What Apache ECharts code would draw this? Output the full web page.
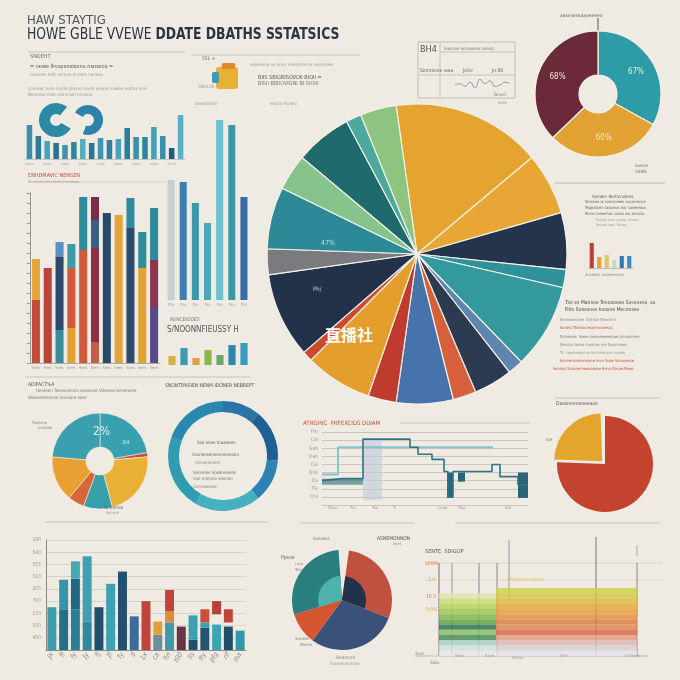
<!DOCTYPE html>
<html>
<head>
<meta charset="utf-8" />
<script src="https://cdn.jsdelivr.net/npm/echarts@6.0.0/dist/echarts.min.js"></script>
<style>
  html, body { margin: 0; padding: 0; background: #efebe3; }
  #main { width: 680px; height: 680px; }
</style>
</head>
<body>
<div id="main"></div>
<script>
// ---- data ----
var miniCats = ['a1','a2','a3','a4','a5','a6','a7','a8','a9','a10','a11','a12','a13','a14','a15','a16','a17','a18'];
var miniValues = [34, 23, 18, 16, 14, 17, 20, 16, 21, 19, 20, 31, 22, 22, 32, 23, 11, 44];

var stackCats = ['s1','s2','s3','s4','s5','s6','s7','s8','s9','s10','s11'];
var stackSeg1 = [63, 95, 33, 35, 113, 21, 150, 148, 135, 95, 56];
var stackSeg2 = [41, 0, 73, 60, 53, 94, 0, 0, 30, 36, 47];
var stackSeg3 = [0, 0, 15, 24, 0, 28, 0, 0, 0, 0, 52];
var stackSeg4 = [0, 0, 0, 0, 0, 23, 0, 0, 0, 0, 0];

var tallCats = ['t1','t2','t3','t4','t5','t6','t7'];
var tallValues = [120, 118, 97, 77, 180, 175, 103];

var iconCats = ['i1','i2','i3','i4','i5','i6','i7'];
var iconValues = [9, 17, 7, 15, 10, 20, 22];

var mainPieValues = [58, 24, 22, 7, 33, 6, 15, 9, 22, 11, 26, 4, 33, 10, 24, 14, 22, 6, 14];

var ringValues = [119, 107, 134];
var ringLabels = ['67%', '60%', '68%'];

var leftPieValues = [80, 5, 80, 35, 20, 55, 85];
var hoopValues = [40, 55, 45, 70, 80, 70];

var stepLineA = [[0,24],[20,26],[41,26],[41,65],[88,65],[88,57],[96,57],[96,50],[110,50],[110,45],[122,45],[122,33],[126,33],[126,8],[131,8],[131,33],[170,33],[170,40],[178,40],[178,28],[196,28],[196,20],[206,20]];
var stepLineB = [[0,30],[16,30],[16,57],[171,57]];
var stepTicks = ['', 'Onl', 'Tle', 'Oa', 'Ohe', 'Cal', 'Dah', 'Gah', 'Cal', 'Pm'];

var sidePieValues = [272, 86, 2];

var bottomCats = ['Jx','ff','fy','Jy','fj','Jf','fy','d','1x','ca','fin','t00','lls','fty','pfg','rif','ma'];
var bottomSeg1 = [42, 40, 40, 28, 42, 65, 77, 33, 48, 15, 27, 23, 10, 22, 25, 23, 19];
var bottomSeg2 = [0, 29, 30, 64, 0, 0, 0, 0, 0, 13, 11, 0, 24, 5, 10, 4, 0];
var bottomSeg3 = [0, 0, 17, 0, 0, 0, 0, 0, 0, 0, 21, 0, 0, 13, 13, 13, 0];
var bottomTicks = ['', '400', '150', '170', '700', '205', '510', '555', '540', '180'];

var bottomPieValues = [8, 103, 105, 37, 103, 4];
var bottomPieInner = [8, 103, 142, 103, 4];

var panelBarValues = [25, 11, 13, 8, 12, 12];
var infoLine = [5, 6, 4, 7, 3, 9, 6, 8, 4, 5, 7, 6];

var heatRows = ['r1','r2','r3','r4','r5','r6','r7','r8','r9','r10','r11','r12','r13'];
var heatLeft = [57, 57, 57, 57, 57, 57, 57, 57, 57, 57, 57, 57, 57];
var heatRight = [141, 141, 141, 141, 141, 141, 141, 141, 141, 141, 141, 141, 141];

// ---- colours ----
var miniColors = ['#3b8fae','#2d7b98','#4aa3b8','#2a6f8e','#3c93ad','#2b86a2','#55adc0','#2a7592','#3f98b0','#2e82a0','#4aa2b7','#2c7d9b','#3990ab','#2b84a0','#40a0b8','#3a8fae','#1f5f7a','#5aafc6'];
var stackCol1 = ['#c54b3b','#b9423a','#3a8a9a','#e2a030','#d05b3c','#c75a46','#284a6a','#e3a43b','#2d4a70','#e3a232','#5b4a8a'];
var stackCol2 = ['#e5a43a','#b9423a','#2d4a6e','#d4583a','#2e8a9c','#8b2f48','#284a6a','#e3a43b','#2f8aa0','#2f8d9a','#8a3550'];
var stackCol3 = ['#000','#000','#5a8fbf','#3d9aa8','#000','#3b5e86','#000','#000','#000','#000','#2d8a9a'];
var stackCol4 = ['#000','#000','#000','#000','#000','#7a2d48','#000','#000','#000','#000','#000'];
var tallColors = ['rgba(150,170,185,0.45)','#3d7fb0','#3a9aaa','#4aa8b8','#6cc0cf','#3a98a8','#3a6aa8'];
var iconColors = ['#d8b240','#3a9ab0','#e2a040','#8ab848','#6aa86a','#2e8aa8','#3a9ac0'];
var mainPieColors = ['#e5a42f','#e8a734','#24344c','#2f929b','#33999d','#5c86b0','#2d3b50','#d5603b','#4673ab','#be3b2d','#e39e2c','#cc4b2e','#22324a','#7a7b7e','#2b8a95','#87c38c','#1f6b6b','#4aa89c','#8dc47f'];
var ringColors = ['#2e9ca6','#e2a233','#6b2a3a'];
var leftPieColors = ['#38a0ae','#c0503a','#e8b035','#36a0ab','#d8663a','#e8a030','#3b9fb0'];
var hoopColors = ['#2a74a8','#1f5f95','#2f80b5','#46b0c0','#2f9cb0','#2a88b0'];
var sidePieColors = ['#c4432f','#e3a52e','rgba(0,0,0,0)'];
var bottomCol1 = ['#3e9cab','#256f8a','#2a7f96','#2e88a0','#234f6e','#3aa2b0','#22506e','#3e6d98','#c0443a','#6c8e98','#3d9aa8','#6a3348','#234f6e','#245570','#3aa6b2','#1f4f6b','#2e9aa8'];
var bottomCol2 = ['#000','#3496aa','#1f6784','#3fa0b2','#000','#000','#000','#000','#000','#e2a03a','#e08a3a','#000','#3aa0b0','#3aa0b0','rgba(0,0,0,0)','rgba(0,0,0,0)','#000'];
var bottomCol3 = ['#000','#000','#45a8b5','#000','#000','#000','#000','#000','#000','#000','#c0443a','#000','#000','#c8503a','#b83f3a','#c0443a','#000'];
var bottomPieColors = ['rgba(0,0,0,0)','#c0513f','#3a527a','#d4552f','#2a7e7f','rgba(0,0,0,0)'];
var bottomInnerColors = ['rgba(0,0,0,0)','#22324a','rgba(0,0,0,0)','#4fb3ad','rgba(0,0,0,0)'];
var panelColors = ['#b8403a','#e2a23a','#d8c870','#c8d8c8','#2e78b8','#3a88c8'];
var heatLeftColors = ['rgba(0,0,0,0)','#e0e6b0','#cfdd78','#b6d35e','#9cc956','#7fb94e','#5ea648','#2f7a52','#8cc070','#4c8f5a','#a8d2c6','#d0e0e4','#e6e8ea'];
var heatRightColors = ['#cbd24c','#d3c845','#dcbb3e','#e4aa3a','#e5a240','#e29245','#de7f48','#e08a55','#d96a4e','#e0a080','#ddb8b0','#d8d0d4','#e6e4e6'];

function colored(values, colors) {
  return values.map(function (v, i) { return { value: v, itemStyle: { color: colors[i] } }; });
}

var FONT = "'Liberation Sans Narrow', 'DejaVu Sans Condensed', sans-serif";
function t(x, y, text, size, color, weight, extra) {
  var el = { type: 'text', z: 100, style: { x: x, y: y, text: text, fill: color || '#777', font: (weight || 'normal') + ' ' + size + 'px ' + FONT, verticalAlign: 'top' } };
  if (extra) Object.assign(el.style, extra);
  return el;
}
function ln(x1, y1, x2, y2, color, w) {
  return { type: 'line', z: 1, shape: { x1: x1, y1: y1, x2: x2, y2: y2 }, style: { stroke: color || '#c9c4ba', lineWidth: w || 1 } };
}

var hiddenX = function (g, cats) { return { type: 'category', gridIndex: g, data: cats, show: false }; };
var hiddenY = function (g, max) { return { type: 'value', gridIndex: g, max: max, show: false }; };

var pieBorder = { borderColor: '#f4f0e8', borderWidth: 1.2 };

var graphics = [
  // title
  t(27, 14, 'HAW STAYTIG', 13, '#50545c'),
  { type: 'text', z: 100, x: 27, y: 27, scaleX: 0.86, style: { x: 0, y: 0, verticalAlign: 'top', text: '{a|HOWE GBLE VVEWE }{b|DDATE DBATHS SSTATSICS}',
      rich: { a: { font: '16px ' + FONT, fill: '#2c3446' }, b: { font: 'bold 16px ' + FONT, fill: '#2c3446' } } } },
  ln(28, 52, 185, 52), ln(192, 55, 360, 55),
  t(30, 54, 'SNOEHT', 5.5, '#666'),
  t(30, 64, '= newe llrcsyonsiovne nsnseco =', 5.5, '#555'),
  t(30, 72, 'neemee teet nornee ricoses nenoes', 4.5, '#999'),
  t(28, 86, 'Lcensec nere noote dnene ciocle yenoe nuelee ssotne sne', 4.5, '#999'),
  t(28, 92, 'Noeesne eiee reens anr nnceoe', 4.5, '#999'),
  t(202, 56, 'SSL =', 5, '#777'),
  t(250, 62, 'seeesene oe nnec enereonnne neennees', 4.5, '#999'),
  t(258, 75, 'BIIS SBIGRISOVOII BIOII =', 5.5, '#555'),
  t(258, 81, 'BISII BIBIOVIGNI BI SIOIII', 5.5, '#777'),
  t(198, 84, 'SNOLOE', 4.5, '#999'),
  t(270, 101, 'snoce rsoneo', 4.5, '#999'),
  { type: 'rect', z: 5, shape: { x: 216, y: 67, width: 22, height: 22, r: 3 }, style: { fill: '#e8b035' } },
  { type: 'rect', z: 6, shape: { x: 212, y: 72, width: 7, height: 11, r: 2 }, style: { fill: '#3a9ab0' } },
  { type: 'rect', z: 6, shape: { x: 222, y: 63, width: 13, height: 6, r: 1 }, style: { fill: '#e0892e' } },
  // info box
  { type: 'rect', z: 1, shape: { x: 418, y: 42, width: 97, height: 56 }, style: { fill: 'none', stroke: '#c2bdb3' } },
  ln(440, 42, 440, 98), ln(440, 52, 515, 52), ln(418, 75, 515, 75),
  t(420, 45, 'BH4', 9, '#555'),
  t(444, 46, 'Ioexcee senoeeos ooeoa', 4.5, '#777'),
  t(420, 68, 'Sommove', 5, '#666'), t(444, 68, 'awa', 5, '#666'), t(463, 68, 'Jo0e', 5, '#666'), t(492, 68, 'Jo 68', 5, '#666'),
  t(493, 92, 'Tannel', 4.5, '#888'), t(498, 101, 'Seee', 4, '#999'),
  // top right
  t(560, 13, 'aasesessaaoeeeeo', 5, '#666'),
  ln(598, 18, 598, 32, '#555'),
  t(635, 163, 'Iaosoe', 4.5, '#777'), t(635, 169, 'SNIBE', 4.5, '#777'),
  ln(555, 183, 665, 183, '#bdb8ae'),
  // right panel
  t(592, 194, 'Senaen Rorticnoleos', 4.5, '#555'),
  t(585, 200, 'Sinecon Ix sonrsoieen onconsoion', 4, '#666'),
  t(585, 206, 'Tegodisein Iasioeos nor sosereoso', 4, '#666'),
  t(585, 212, 'Roms teneenoc sraeo wo sinosto', 4, '#666'),
  t(596, 218, 'Soionn tnse: ocooe  Eoeom', 3.5, '#999'),
  t(596, 223, 'Tosnan Ioeo  Sanoe', 3.5, '#999'),
  t(585, 273, 'Sooeoec Iosoeeeonns', 4, '#888'),
  t(565, 300, 'Tioi sn Mannoe Tenonoeoe Soceneso, so', 5, '#444'),
  t(565, 307, 'Fitts Sonesnes Inosore Mecensee', 5, '#444'),
  t(560, 318, 'Seneoseocee  Srrrocn Eeocenn', 4, '#888'),
  t(560, 326, 'Sonets Tosinoo esomsoioesss', 4, '#c8503a'),
  t(560, 335, 'Eomoeoe  Seee roonoeneeesoes Ammolnne', 4, '#777'),
  t(560, 343, 'Nnosno Iosoe monnes me Sosonnoes', 4, '#888'),
  t(560, 351, 'Te  seenonesone Sosnnonens naeeo', 4, '#999'),
  t(560, 359, 'Sonnersonnennene Imm Sose Soosoeose', 4, '#c8503a'),
  t(553, 367, 'Seonos Sosonerneosoesoe Senn Rosoe Roeo', 4, '#c8503a'),
  ln(555, 398, 660, 398),
  t(556, 401, 'Daosneeneoeeaoe', 5, '#555'),
  // left side
  t(195, 101, 'aesdnitene', 4.5, '#999'),
  t(28, 173, 'ENHDMAVIC NENSEN', 5.5, '#c0503a'),
  t(28, 180, 'Seeeoeeeeeeeeeeoeeeeeoe', 4, '#999'),
  ln(70, 182, 165, 182, '#d8d2c8'),
  t(170, 317, 'IN/NCEIOOES', 5, '#777'),
  t(167, 326, 'S/NOONNFIEUSSY H', 8, '#555', 'normal', { fontStyle: 'italic' }),
  ln(25, 377, 250, 377),
  t(28, 382, 'ADIFACT%A', 5, '#555'),
  t(36, 388, 'Uenleen Teesoenceio nossiove Vinsene Ienemene', 4.5, '#777'),
  t(28, 395, 'Woiseesmenne Ioonane sees', 4.5, '#777'),
  t(165, 383, 'SNONTDNSIEN NENM IDONER NEBREPT', 5, '#555'),
  t(32, 421, 'Tuenene', 4, '#888'), t(38, 426, 'mosnee', 4, '#888'),
  t(104, 505, 'Snonnse', 5, '#666'), t(106, 511, 'Sonose', 4, '#999'),
  ln(45, 522, 268, 522),
  t(197, 440, 'Soo snee tnaeseen', 4.5, '#555'),
  t(192, 452, 'Sosneeseneeneeeeonn', 4.5, '#666'),
  t(195, 460, 'Senoeeneen', 4.5, '#888'),
  t(193, 470, 'Sonnens Sosnneeeon', 4.5, '#666'),
  t(193, 476, 'Soe noneeo seoneo', 4.5, '#777'),
  t(193, 484, 'Sonneeesen', 4.5, '#888'),
  // step chart
  t(303, 420, 'ATHGHIC  PRFEXCIDS DUIAM', 6, '#c0503a'),
  ln(400, 423, 530, 423),
  t(328, 506, 'Tiaon', 4, '#999'), t(350, 506, 'Tnv', 4, '#999'), t(372, 506, 'Tae', 4, '#999'),
  t(393, 506, 'Ti', 4, '#999'), t(438, 506, 'Ceoe', 4, '#999'), t(458, 506, 'Tioe', 4, '#999'), t(505, 506, 'Dio', 4, '#999'),
  ln(300, 523, 414, 523), ln(455, 523, 660, 523),
  t(546, 437, 'Ioe', 4.5, '#777'),
  // pie texts
  t(321, 240, '47%', 7, '#bfe4e8'),
  t(313, 286, 'Ph/', 6, '#cfd6e0'),
  { type: 'text', z: 120, style: { x: 325, y: 327, text: '直播社', fill: '#ffffff', font: 'bold 16px "Noto Sans CJK SC", sans-serif', verticalAlign: 'top' } },
  t(93, 426, '2%', 12, '#d8f2f4'),
  t(122, 440, '3/4', 5, '#d8f2f4'),
  // bottom pie texts
  t(313, 536, 'Sosoeos', 4.5, '#777'),
  t(377, 536, 'ASNEMONNON', 5, '#555'),
  t(393, 542, 'Sees', 4, '#999'),
  t(281, 555, 'Ppsne', 5, '#555'),
  t(295, 562, 'Loso', 4, '#888'), t(295, 568, 'Toso', 4, '#888'),
  t(295, 637, 'Sreseee', 4, '#888'), t(300, 643, 'Moene', 4, '#888'),
  t(336, 655, 'Aeasnoe', 5, '#888'), t(330, 661, 'Soosonnonane', 4.5, '#999'),
  // heat bands
  t(425, 549, 'SENTE  SDIGOP', 5.5, '#555'),
  t(425, 561, '100%', 5, '#d87a4a'),
  t(428, 577, '1.0', 5, '#e0a040'),
  t(426, 594, '10.5', 5, '#d87a4a'),
  t(426, 607, '0.0%', 5, '#e0a040'),
  t(507, 577, 'Pilolonsnnoeeeo', 5, '#e0c060'),
  ln(425, 563, 662, 563, '#d8d3ca'), ln(425, 580, 662, 580, '#ddd8cf'),
  ln(439, 563, 439, 656, '#777'), ln(452, 563, 452, 656, '#999'),
  ln(479, 563, 479, 656, '#888'), ln(497, 563, 497, 656, '#888'),
  ln(509, 540, 509, 600, '#999'), ln(596, 537, 596, 656, '#777'),
  ln(637, 563, 637, 656, '#888'), ln(637, 545, 637, 556, '#aaa'),
  ln(415, 656, 648, 656, '#bbb'),
  t(415, 652, 'Tosie', 4, '#888'), t(430, 660, 'Sola', 4.5, '#777'),
  t(455, 654, 'Sees', 4, '#999'), t(485, 654, 'Eaoe', 4, '#999'), t(512, 656, 'Deove', 4, '#999'),
  t(560, 654, 'Ooe', 4, '#999'), t(625, 654, 'Loneose', 4, '#999')
];

var option = {
  backgroundColor: '#efebe3',
  animation: false,
  textStyle: { fontFamily: FONT },
  grid: [
    { left: 25, top: 110, width: 160, height: 49 },   // 0 mini bars
    { left: 30, top: 193, width: 130, height: 170 },  // 1 stacked bars
    { left: 165, top: 115, width: 85, height: 185 },  // 2 tall bars
    { left: 166, top: 340, width: 84, height: 25 },   // 3 icon bars
    { left: 322, top: 432, width: 206, height: 73 },  // 4 step chart
    { left: 46, top: 540, width: 200, height: 110 },  // 5 bottom bars
    { left: 588, top: 240, width: 45, height: 28 },   // 6 panel bars
    { left: 439, top: 588, width: 198, height: 68 },  // 7 heat bands
    { left: 455, top: 78, width: 55, height: 14 }     // 8 info line
  ],
  xAxis: [
    { type: 'category', gridIndex: 0, data: miniCats, axisLine: { lineStyle: { color: '#c9c4ba' } }, axisTick: { show: false },
      axisLabel: { fontSize: 4, color: '#aaa', margin: 3, formatter: function () { return 'sooe'; } } },
    { type: 'category', gridIndex: 1, data: stackCats, axisLine: { lineStyle: { color: '#aaa' } }, axisTick: { show: false },
      axisLabel: { fontSize: 4, color: '#999', margin: 3, formatter: function () { return 'Sees'; } } },
    { type: 'category', gridIndex: 2, data: tallCats, axisLine: { show: false }, axisTick: { show: false },
      axisLabel: { fontSize: 4, color: '#999', margin: 3, formatter: function () { return 'Pro'; } } },
    hiddenX(3, iconCats),
    { type: 'value', gridIndex: 4, min: 0, max: 206, show: false },
    { type: 'category', gridIndex: 5, data: bottomCats, axisLine: { lineStyle: { color: '#8a8a8a' } }, axisTick: { show: false },
      axisLabel: { fontSize: 7, color: '#8a8a8a', rotate: 60, margin: 3, fontStyle: 'italic' } },
    { type: 'category', gridIndex: 6, data: ['p1','p2','p3','p4','p5','p6'], axisLine: { lineStyle: { color: '#bbb' } }, axisTick: { show: false }, axisLabel: { show: false } },
    { type: 'value', gridIndex: 7, min: 0, max: 198, show: false },
    { type: 'category', gridIndex: 8, data: infoLine.map(function (v, i) { return i; }), show: false, boundaryGap: false }
  ],
  yAxis: [
    hiddenY(0, 49),
    { type: 'value', gridIndex: 1, min: 0, max: 170, interval: 10, axisLine: { show: true, lineStyle: { color: '#999' } },
      axisTick: { show: true, length: 3, lineStyle: { color: '#999' } }, splitLine: { show: false },
      axisLabel: { fontSize: 4, color: '#aaa', margin: 2, formatter: function () { return '--'; } } },
    hiddenY(2, 185),
    hiddenY(3, 25),
    { type: 'value', gridIndex: 4, min: 0, max: 72, interval: 8, axisLine: { show: false }, axisTick: { show: false },
      splitLine: { lineStyle: { color: '#c9c6c0', width: 1 } },
      axisLabel: { fontSize: 5, color: '#999', margin: 4, formatter: function (v) { return stepTicks[v / 8] || ''; } } },
    { type: 'value', gridIndex: 5, min: 0, max: 108, interval: 12, axisLine: { show: true, lineStyle: { color: '#8a8a8a' } }, axisTick: { show: false },
      splitLine: { lineStyle: { color: '#d8d3ca' } },
      axisLabel: { fontSize: 5, color: '#999', margin: 5, formatter: function (v) { return bottomTicks[v / 12] || ''; } } },
    hiddenY(6, 28),
    { type: 'category', gridIndex: 7, data: heatRows, inverse: true, show: false },
    { type: 'value', gridIndex: 8, min: 0, max: 10, show: false }
  ],
  series: [
    // top-left mini bars
    { type: 'bar', xAxisIndex: 0, yAxisIndex: 0, barWidth: '62%', data: colored(miniValues, miniColors) },
    // top-left decorative donut fragments
    { type: 'pie', center: [56, 120], radius: [6, 17], startAngle: 330, silent: true, label: { show: false },
      data: [{ value: 280, itemStyle: { color: '#2a8aa5' } }, { value: 80, itemStyle: { color: 'rgba(0,0,0,0)' } }] },
    { type: 'pie', center: [88, 120], radius: [6, 15], startAngle: 150, silent: true, label: { show: false },
      data: [{ value: 260, itemStyle: { color: '#2c82a8' } }, { value: 100, itemStyle: { color: 'rgba(0,0,0,0)' } }] },
    // stacked bars
    { type: 'bar', stack: 'L', xAxisIndex: 1, yAxisIndex: 1, barWidth: '68%', data: colored(stackSeg1, stackCol1) },
    { type: 'bar', stack: 'L', xAxisIndex: 1, yAxisIndex: 1, barWidth: '68%', data: colored(stackSeg2, stackCol2) },
    { type: 'bar', stack: 'L', xAxisIndex: 1, yAxisIndex: 1, barWidth: '68%', data: colored(stackSeg3, stackCol3) },
    { type: 'bar', stack: 'L', xAxisIndex: 1, yAxisIndex: 1, barWidth: '68%', data: colored(stackSeg4, stackCol4) },
    // tall bars
    { type: 'bar', xAxisIndex: 2, yAxisIndex: 2, barWidth: '58%', data: colored(tallValues, tallColors) },
    // icon bars
    { type: 'bar', xAxisIndex: 3, yAxisIndex: 3, barWidth: '60%', data: colored(iconValues, iconColors) },
    // main pie
    { type: 'pie', center: [417, 254], radius: 150, startAngle: 98, label: { show: false }, itemStyle: pieBorder,
      data: colored(mainPieValues, mainPieColors) },
    // top-right donut
    { type: 'pie', center: [598, 94], radius: [19, 63], startAngle: 90, itemStyle: pieBorder,
      label: { show: true, position: 'inside', fontSize: 8, color: '#f0e6d6' },
      data: ringValues.map(function (v, i) { return { value: v, name: ringLabels[i], itemStyle: { color: ringColors[i] } }; }) },
    // bottom-left pie
    { type: 'pie', center: [100, 461], radius: [14, 48], startAngle: 90, label: { show: false }, itemStyle: { borderColor: '#f4f0e8', borderWidth: 0.6 },
      data: colored(leftPieValues, leftPieColors) },
    // ring
    { type: 'pie', center: [223, 456], radius: [44, 55], startAngle: 90, label: { show: false },
      data: colored(hoopValues, hoopColors) },
    // step chart
    { type: 'line', xAxisIndex: 4, yAxisIndex: 4, data: stepLineB, symbol: 'none', lineStyle: { color: '#86c2ca', width: 2 } },
    { type: 'line', xAxisIndex: 4, yAxisIndex: 4, data: stepLineA, symbol: 'none', lineStyle: { color: '#2d7488', width: 1.6 },
      markArea: { silent: true, data: [
        [{ coord: [41, 5], itemStyle: { color: 'rgba(190,200,218,0.6)' } }, { coord: [60, 65] }],
        [{ coord: [125, 7], itemStyle: { color: '#2a6478' } }, { coord: [131, 32] }],
        [{ coord: [136, 23], itemStyle: { color: '#2a6478' } }, { coord: [143, 32] }],
        [{ coord: [196, 7], itemStyle: { color: '#2a6478' } }, { coord: [206, 32] }],
        [{ coord: [0, 20], itemStyle: { color: 'rgba(42,106,122,0.6)' } }, { coord: [41, 26] }]
      ] } },
    // bottom-right pie
    { type: 'pie', center: [605, 464], radius: 48, startAngle: 90, label: { show: false }, selectedOffset: 4, selectedMode: 'single',
      data: sidePieValues.map(function (v, i) { return { value: v, selected: i === 1, itemStyle: { color: sidePieColors[i] } }; }) },
    // bottom bars
    { type: 'bar', stack: 'B', xAxisIndex: 5, yAxisIndex: 5, barWidth: '76%', data: colored(bottomSeg1, bottomCol1) },
    { type: 'bar', stack: 'B', xAxisIndex: 5, yAxisIndex: 5, barWidth: '76%', data: colored(bottomSeg2, bottomCol2) },
    { type: 'bar', stack: 'B', xAxisIndex: 5, yAxisIndex: 5, barWidth: '76%', data: colored(bottomSeg3, bottomCol3) },
    // bottom-center pie
    { type: 'pie', center: [342, 600], radius: [0, 50], startAngle: 90, label: { show: false },
      data: colored(bottomPieValues, bottomPieColors) },
    { type: 'pie', center: [342, 600], radius: [0, 24], startAngle: 90, label: { show: false }, silent: true,
      data: colored(bottomPieInner, bottomInnerColors) },
    // right panel mini bars
    { type: 'bar', xAxisIndex: 6, yAxisIndex: 6, barWidth: '55%', data: colored(panelBarValues, panelColors) },
    // heat bands
    { type: 'bar', stack: 'H', xAxisIndex: 7, yAxisIndex: 7, barCategoryGap: '0%', itemStyle: { opacity: 0.85 }, data: colored(heatLeft, heatLeftColors) },
    { type: 'bar', stack: 'H', xAxisIndex: 7, yAxisIndex: 7, barCategoryGap: '0%', itemStyle: { opacity: 0.85 }, data: colored(heatRight, heatRightColors) },
    // info box line
    { type: 'line', xAxisIndex: 8, yAxisIndex: 8, data: infoLine, symbol: 'none', smooth: true, lineStyle: { color: '#8a9aa8', width: 1 } }
  ],
  graphic: { elements: graphics }
};

var chart = echarts.init(document.getElementById('main'));
chart.setOption(option);
</script>
</body>
</html>
